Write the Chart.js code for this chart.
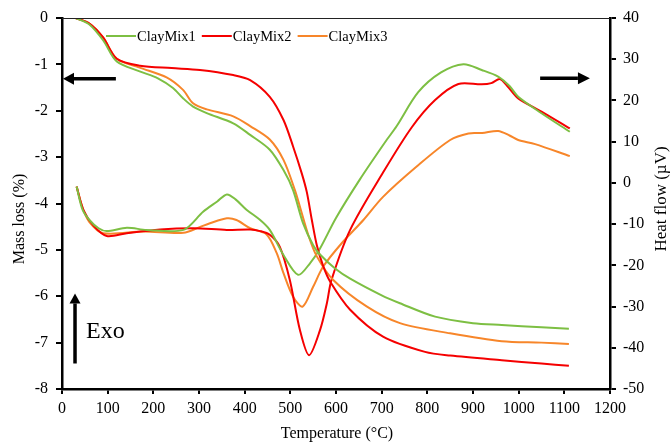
<!DOCTYPE html>
<html>
<head>
<meta charset="utf-8">
<script src="https://cdn.jsdelivr.net/npm/chart.js@4"></script>
<style>
  html, body { margin: 0; padding: 0; background: #fff; }
  #chart { display: block; }
</style>
</head>
<body>
<canvas id="chart" width="670" height="444"></canvas>
<script>
// sample names and colours
var names = ['ClayMix1', 'ClayMix2', 'ClayMix3']
var colors = ['#7dbf43', '#f50000', '#f7862a']

// mass loss (%) curves, left axis
var massTemp1 = [30, 60, 90, 120, 170, 210, 243, 265, 287, 317, 375, 412, 455, 485, 506, 528, 550, 565, 598, 631, 700, 740, 817, 900, 963, 1050, 1110]
var mass1 = [0, -0.14, -0.48, -0.94, -1.15, -1.3, -1.51, -1.73, -1.91, -2.05, -2.27, -2.52, -2.84, -3.28, -3.71, -4.43, -4.9, -5.1, -5.4, -5.62, -5.98, -6.15, -6.44, -6.58, -6.62, -6.67, -6.70]

var massTemp2 = [30, 60, 90, 120, 171, 240, 302, 375, 412, 455, 485, 506, 525, 536, 547, 558, 572, 587, 631, 703, 795, 850, 963, 1050, 1110]
var mass2 = [0, -0.12, -0.42, -0.88, -1.03, -1.08, -1.12, -1.23, -1.34, -1.70, -2.20, -2.77, -3.35, -3.75, -4.35, -4.9, -5.35, -5.68, -6.29, -6.87, -7.2, -7.28, -7.38, -7.45, -7.5]

var massTemp3 = [30, 60, 90, 120, 170, 229, 265, 287, 317, 375, 412, 455, 485, 510, 521, 540, 558, 594, 667, 740, 850, 963, 1050, 1110]
var mass3 = [0, -0.12, -0.42, -0.88, -1.07, -1.28, -1.55, -1.84, -1.97, -2.12, -2.33, -2.62, -3.06, -3.71, -4.07, -4.7, -5.14, -5.65, -6.22, -6.58, -6.80, -6.97, -7.0, -7.03]

// heat flow (uV) curves, right axis
var heatTemp1 = [32, 45, 60, 80, 98, 142, 185, 266, 309, 340, 361, 380, 404, 434, 455, 485, 517, 543, 565, 600, 652, 707, 733, 780, 830, 879, 919, 955, 980, 999, 1050, 1112]
var heat1 = [-0.9, -6.5, -9.0, -11.0, -11.7, -10.9, -11.4, -11.4, -7.0, -4.5, -2.8, -4.0, -6.5, -9.0, -11.4, -17.5, -22.3, -19.5, -15.9, -8.5, 0.8, 9.8, 13.8, 22.0, 26.8, 28.8, 27.4, 25.8, 23.5, 20.9, 16.9, 12.4]

var heatTemp2 = [32, 47, 70, 98, 142, 215, 288, 361, 412, 434, 455, 477, 499, 521, 541, 565, 580, 590, 631, 703, 766, 817, 868, 919, 940, 959, 975, 999, 1050, 1112]
var heat2 = [-0.9, -6.6, -10.5, -12.9, -12.2, -11.3, -11.0, -11.4, -11.3, -11.7, -12.6, -15.5, -23.6, -35.7, -41.8, -35.7, -29.2, -23.6, -11.4, 2.5, 13.5, 20.1, 24.0, 23.9, 24.2, 25.2, 23.5, 20.5, 17.3, 13.2]

var heatTemp3 = [32, 45, 60, 90, 178, 266, 300, 324, 361, 382, 412, 448, 470, 485, 506, 527, 550, 572, 612, 660, 703, 776, 850, 890, 920, 955, 980, 999, 1036, 1112]
var heat3 = [-0.9, -6, -9.5, -12.2, -11.8, -12.1, -10.8, -9.8, -8.6, -9.0, -11.0, -12.5, -17, -21.9, -27.6, -30.0, -25.2, -20.3, -14.7, -9, -3.4, 3.9, 10.4, 12.0, 12.1, 12.6, 11.5, 10.4, 9.4, 6.5]

var FONT = "'Liberation Serif', 'Times New Roman', serif"

function toPoints(xs, ys) {
    var pts = []
    for (var i = 0; i < xs.length; i++) {
        pts.push({ x: xs[i], y: ys[i] })
    }
    return pts
}

function makeSet(label, xs, ys, color, axis) {
    return {
        label: label,
        data: toPoints(xs, ys),
        borderColor: color,
        backgroundColor: color,
        borderWidth: 2,
        pointRadius: 0,
        fill: false,
        tension: 0.3,
        yAxisID: axis
    }
}

var datasets = [
    makeSet(names[0], massTemp1, mass1, colors[0], 'y'),
    makeSet(names[1], massTemp2, mass2, colors[1], 'y'),
    makeSet(names[2], massTemp3, mass3, colors[2], 'y'),
    makeSet(names[0], heatTemp1, heat1, colors[0], 'y1'),
    makeSet(names[1], heatTemp2, heat2, colors[1], 'y1'),
    makeSet(names[2], heatTemp3, heat3, colors[2], 'y1')
]

// arrow helper
function arrow(ctx, x1, y1, x2, y2, head, half) {
    var ang = Math.atan2(y2 - y1, x2 - x1)
    var bx = x2 - head * Math.cos(ang)
    var by = y2 - head * Math.sin(ang)
    ctx.beginPath()
    ctx.moveTo(x1, y1)
    ctx.lineTo(bx, by)
    ctx.stroke()
    ctx.beginPath()
    ctx.moveTo(x2, y2)
    ctx.lineTo(bx + half * Math.sin(ang), by - half * Math.cos(ang))
    ctx.lineTo(bx - half * Math.sin(ang), by + half * Math.cos(ang))
    ctx.closePath()
    ctx.fill()
}

var extras = {
    id: 'extras',
    afterDraw: function (chart) {
        var ctx = chart.ctx
        var a = chart.chartArea
        var sx = chart.scales.x, sy = chart.scales.y, sy1 = chart.scales.y1
        ctx.save()

        // thin frame line on top
        ctx.strokeStyle = '#222'
        ctx.lineWidth = 1
        ctx.beginPath()
        ctx.moveTo(a.left, a.top + 0.5)
        ctx.lineTo(a.right, a.top + 0.5)
        ctx.stroke()

        // legend
        ctx.font = '14.5px ' + FONT
        ctx.textBaseline = 'middle'
        ctx.textAlign = 'left'
        var lx = 106, ly = 36
        for (var i = 0; i < names.length; i++) {
            ctx.strokeStyle = colors[i]
            ctx.lineWidth = 2
            ctx.beginPath()
            ctx.moveTo(lx, ly)
            ctx.lineTo(lx + 30, ly)
            ctx.stroke()
            ctx.fillStyle = '#000'
            ctx.fillText(names[i], lx + 31, ly + 1)
            lx = lx + 31 + ctx.measureText(names[i]).width + 6
        }

        // axis titles
        ctx.fillStyle = '#000'
        ctx.font = '16px ' + FONT
        ctx.textAlign = 'center'
        ctx.textBaseline = 'middle'
        ctx.fillText('Temperature (°C)', 337, 434)

        ctx.save()
        ctx.translate(20, 219)
        ctx.rotate(-Math.PI / 2)
        ctx.fillText('Mass loss (%)', 0, 0)
        ctx.restore()

        ctx.save()
        ctx.translate(662, 199)
        ctx.rotate(-Math.PI / 2)
        ctx.font = '17px ' + FONT
        ctx.fillText('Heat flow (µV)', 0, 0)
        ctx.restore()

        // arrows
        ctx.fillStyle = '#000'
        ctx.strokeStyle = '#000'
        ctx.lineWidth = 3.5
        var yL = sy.getPixelForValue(-1.31)
        arrow(ctx, sx.getPixelForValue(118), yL, sx.getPixelForValue(0) + 1, yL, 11, 6)
        var yR = sy1.getPixelForValue(25.4)
        arrow(ctx, sx.getPixelForValue(1047), yR, sx.getPixelForValue(1156), yR, 12, 6)
        var xU = sx.getPixelForValue(28.5)
        arrow(ctx, xU, sy.getPixelForValue(-7.45), xU, sy.getPixelForValue(-5.94), 10, 5.5)

        // Exo label
        ctx.font = '24px ' + FONT
        ctx.textAlign = 'left'
        ctx.textBaseline = 'alphabetic'
        ctx.fillText('Exo', sx.getPixelForValue(52.5), sy.getPixelForValue(-6.9))

        ctx.restore()
    }
}

var tickFont = { family: FONT, size: 16 }
var plainTick = function (value) { return String(value) }

var config = {
    type: 'line',
    data: { datasets: datasets },
    options: {
        responsive: false,
        animation: false,
        devicePixelRatio: 1,
        layout: { padding: { top: 18, left: 0, right: 0, bottom: 0 } },
        plugins: {
            legend: { display: false },
            tooltip: { enabled: false }
        },
        scales: {
            x: {
                type: 'linear',
                min: 0,
                max: 1200,
                ticks: { stepSize: 100, color: '#000', font: tickFont, padding: 5, maxRotation: 0, callback: plainTick },
                grid: { drawOnChartArea: false, color: '#000', lineWidth: 2, tickLength: 5 },
                border: { color: '#000', width: 2.5 },
                afterFit: function (s) { s.height = 55 }
            },
            y: {
                position: 'left',
                min: -8,
                max: 0,
                ticks: { stepSize: 1, color: '#000', font: tickFont, padding: 8, callback: plainTick },
                grid: { drawOnChartArea: false, color: '#000', lineWidth: 2, tickLength: 6 },
                border: { color: '#000', width: 2.5 },
                afterFit: function (s) { s.width = 62 }
            },
            y1: {
                position: 'right',
                min: -50,
                max: 40,
                ticks: { stepSize: 10, color: '#000', font: tickFont, padding: 7, callback: plainTick },
                grid: { drawOnChartArea: false, color: '#000', lineWidth: 2, tickLength: 6 },
                border: { color: '#000', width: 2.5 },
                afterFit: function (s) { s.width = 60 }
            }
        }
    },
    plugins: [extras]
}

var ctx = document.getElementById('chart').getContext('2d')
var myChart = new Chart(ctx, config)
</script>
</body>
</html>
